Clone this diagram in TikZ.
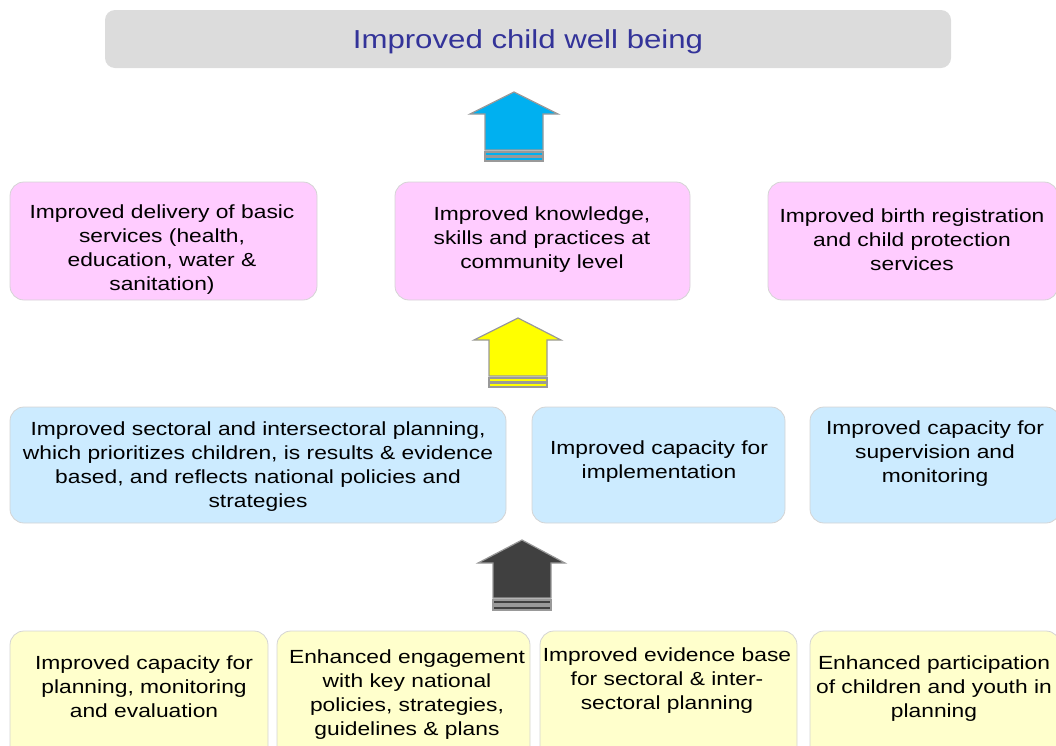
\documentclass[tikz,border=0pt]{standalone}
\usepackage{fontspec}
\setmainfont{Liberation Sans}[FakeStretch=1.2]
\definecolor{titlegray}{HTML}{DCDCDC}
\definecolor{titleblue}{HTML}{333399}
\definecolor{pinkfill}{HTML}{FFCCFF}
\definecolor{bluefill}{HTML}{CCEBFF}
\definecolor{yellowfill}{HTML}{FFFFCC}
\definecolor{edgegray}{HTML}{D4D4D4}
\definecolor{arrowedge}{HTML}{999999}
\definecolor{arrowblue}{HTML}{00B0F0}
\definecolor{arrowyellow}{HTML}{FFFF00}
\definecolor{arrowdark}{HTML}{404040}
\begin{document}
\begin{tikzpicture}[x=1pt,y=-1pt,
  card/.style={draw=edgegray, line width=0.8pt, rounded corners=14pt, inner sep=0pt},
  txt/.style={align=center, inner sep=0pt, font=\fontsize{19}{24}\selectfont},
  blockarrow/.style={draw=arrowedge, line width=1.2pt, line join=miter}
]
\useasboundingbox (0,0) rectangle (1056,745);
\clip (0,0) rectangle (1056,745);

% goal
\node[card, fill=titlegray, draw=none, rounded corners=10pt, minimum width=846pt, minimum height=58pt]
  (goal) at (528,39) {};
\node[text=titleblue, inner sep=0pt, font=\fontsize{26}{30}\selectfont] (goalt) at (528,42) {Improved child well being};

% outcomes
\node[card, fill=pinkfill, minimum width=307pt, minimum height=118pt] (o1) at (163.5,241) {};
\node[card, fill=pinkfill, minimum width=295pt, minimum height=118pt] (o2) at (542.5,241) {};
\node[card, fill=pinkfill, minimum width=290pt, minimum height=118pt] (o3) at (913,241) {};
\node[txt] (o1t) at (162,250) {Improved delivery of basic\\services (health,\\education, water \&\\sanitation)};
\node[txt] (o2t) at (542,239.5) {Improved knowledge,\\skills and practices at\\community level};
\node[txt] (o3t) at (912,239.5) {Improved birth registration\\and child protection\\services};

% outputs
\node[card, fill=bluefill, minimum width=496pt, minimum height=116pt] (u1) at (258,465) {};
\node[card, fill=bluefill, minimum width=253pt, minimum height=116pt] (u2) at (658.5,465) {};
\node[card, fill=bluefill, minimum width=250pt, minimum height=116pt] (u3) at (935,465) {};
\node[txt] (u1t) at (258,466.5) {Improved sectoral and intersectoral planning,\\which prioritizes children, is results \& evidence\\based, and reflects national policies and\\strategies};
\node[txt] (u2t) at (659,462) {Improved capacity for\\implementation};
\node[txt] (u3t) at (935,454) {Improved capacity for\\supervision and\\monitoring};

% strategies
\node[card, fill=yellowfill, minimum width=258pt, minimum height=140pt] (s1) at (139,701) {};
\node[card, fill=yellowfill, minimum width=253pt, minimum height=140pt] (s2) at (403.5,701) {};
\node[card, fill=yellowfill, minimum width=257pt, minimum height=140pt] (s3) at (668.5,701) {};
\node[card, fill=yellowfill, minimum width=250pt, minimum height=140pt] (s4) at (935,701) {};
\node[txt] (s1t) at (144,687) {Improved capacity for\\planning, monitoring\\and evaluation};
\node[txt] (s2t) at (407,695) {Enhanced engagement\\with key national\\policies, strategies,\\guidelines \& plans};
\node[txt] (s3t) at (667,680.5) {Improved evidence base\\for sectoral \& inter-\\sectoral planning};
\node[txt] (s4t) at (934,689) {Enhanced participation\\of children and youth in\\planning};

% block arrows between the tiers
\filldraw[blockarrow, fill=arrowblue] (514,92) -- (558,114) -- (543,114) -- (543,150) -- (485,150) -- (485,114) -- (470,114) -- cycle;
\filldraw[blockarrow, fill=arrowblue] (485,152) rectangle (543,156);
\filldraw[blockarrow, fill=arrowblue] (485,157.5) rectangle (543,161);

\filldraw[blockarrow, fill=arrowyellow] (518,318) -- (561,340) -- (547,340) -- (547,376) -- (489,376) -- (489,340) -- (474,340) -- cycle;
\filldraw[blockarrow, fill=arrowyellow] (489,378) rectangle (547,382);
\filldraw[blockarrow, fill=arrowyellow] (489,383.5) rectangle (547,387);

\filldraw[blockarrow, fill=arrowdark] (522,540) -- (565,563) -- (551,563) -- (551,598) -- (493,598) -- (493,563) -- (478,563) -- cycle;
\filldraw[blockarrow, fill=arrowdark] (493,600) rectangle (551,604);
\filldraw[blockarrow, fill=arrowdark] (493,606) rectangle (551,610);
\end{tikzpicture}
\end{document}
